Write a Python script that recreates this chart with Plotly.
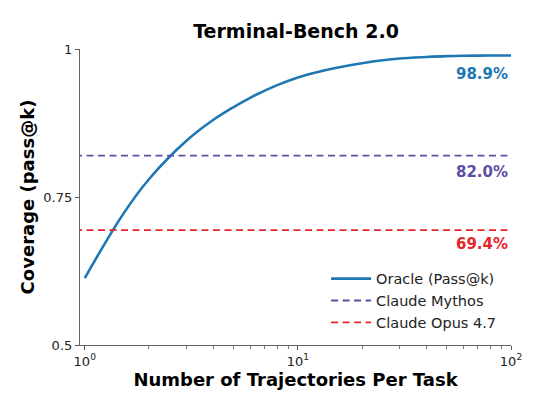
import plotly.graph_objects as go

# Data
k_values = [1, 1.5, 2, 3, 4, 5, 6, 8, 10, 12, 15, 20, 25, 30, 40, 50, 60, 80, 100]
oracle_pass_at_k = [0.613, 0.719, 0.780, 0.845, 0.880, 0.902, 0.918, 0.939, 0.952, 0.960,
                    0.968, 0.976, 0.981, 0.984, 0.9865, 0.988, 0.9886, 0.989, 0.989]
mythos_score = 0.820
opus_score = 0.694
oracle_final = 0.989

series_names = ["Oracle (Pass@k)", "Claude Mythos", "Claude Opus 4.7"]
x_tick_vals = [1, 10, 100]
x_tick_text = ["10<sup>0</sup>", "10<sup>1</sup>", "10<sup>2</sup>"]
y_tick_vals = [0.5, 0.75, 1.0]
y_tick_text = ["0.5", "0.75", "1"]

BLUE = "#1f77b4"
PURPLE = "#5e4fa2"
RED = "#e4262b"
FONT = "DejaVu Sans"

x_start, x_end = 0.9, 100
W, H = 535, 403  # page adds an 8px body margin

fig = go.Figure()
fig.add_trace(go.Scatter(x=k_values, y=oracle_pass_at_k, mode="lines",
                         line=dict(color=BLUE, width=2.6, shape="spline", smoothing=1.0),
                         name=series_names[0]))
fig.add_trace(go.Scatter(x=[x_start, x_end], y=[mythos_score, mythos_score], mode="lines",
                         line=dict(color=PURPLE, width=1.8, dash="7px,4.5px"),
                         name=series_names[1]))
fig.add_trace(go.Scatter(x=[x_start, x_end], y=[opus_score, opus_score], mode="lines",
                         line=dict(color=RED, width=1.8, dash="7px,4.5px"),
                         name=series_names[2]))

annos = [
    (oracle_final, f"{oracle_final*100:.1f}%", BLUE, -7),
    (mythos_score, f"{mythos_score*100:.1f}%", PURPLE, -5),
    (opus_score, f"{opus_score*100:.1f}%", RED, -3),
]
for yv, txt, col, ys in annos:
    fig.add_annotation(x=2, xref="x", y=yv, yref="y", text=f"<b>{txt}</b>",
                       showarrow=False, xanchor="right", yanchor="top",
                       xshift=-1, yshift=ys,
                       font=dict(family=FONT, size=15, color=col))

fig.update_layout(
    width=W, height=H,
    margin=dict(l=72, r=32, t=41, b=66),
    paper_bgcolor="white", plot_bgcolor="white",
    font=dict(family=FONT, size=13, color="#222"),
    title=dict(text="<b>Terminal-Bench 2.0</b>", x=(296 - 8) / W, xref="container",
               xanchor="center", y=1 - 23 / H, yanchor="middle",
               font=dict(family=FONT, size=19, color="black")),
    showlegend=True,
    legend=dict(x=0.571, y=0.278, xanchor="left", yanchor="top",
                bgcolor="rgba(0,0,0,0)", borderwidth=0,
                font=dict(family=FONT, size=14.5, color="#222"),
                itemwidth=40, tracegroupgap=4),
)

fig.update_xaxes(type="log", range=[-0.0223, 2.0],
                 tickvals=x_tick_vals, ticktext=x_tick_text,
                 ticks="outside", ticklen=4, tickwidth=1, tickcolor="#555",
                 showline=True, linecolor="#666", linewidth=1.2,
                 showgrid=False, zeroline=False,
                 tickfont=dict(family=FONT, size=13, color="#222"),
                 minor=dict(tickvals=[2, 3, 4, 5, 6, 7, 8, 9, 20, 30, 40, 50, 60, 70, 80, 90],
                            ticks="outside", ticklen=2.5, tickcolor="#777", showgrid=False),
                 title=dict(text="<b>Number of Trajectories Per Task</b>", standoff=4,
                            font=dict(family=FONT, size=18, color="black")))
fig.update_yaxes(range=[0.5, 1.0], tickvals=y_tick_vals, ticktext=y_tick_text,
                 ticks="outside", ticklen=4, tickwidth=1, tickcolor="#555",
                 showline=True, linecolor="#666", linewidth=1.2,
                 showgrid=False, zeroline=False,
                 tickfont=dict(family=FONT, size=13, color="#222"),
                 title=dict(text="<b>Coverage (pass@k)</b>", standoff=4,
                            font=dict(family=FONT, size=18, color="black")))

fig.write_html("out.html")
